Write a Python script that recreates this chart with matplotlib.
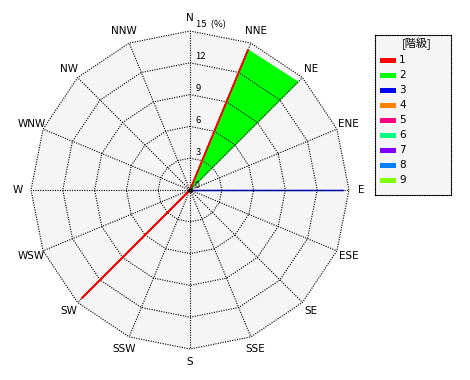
#!/usr/bin/env python3
"""Wind-rose style radar chart (16 directions, frequency %) with class legend."""

import numpy as np
import matplotlib
matplotlib.use("Agg")
import matplotlib.pyplot as plt

# ---------------------------------------------------------------------------
# Data
# ---------------------------------------------------------------------------

directions = ["N", "NNE", "NE", "ENE", "E", "ESE", "SE", "SSE",
              "S", "SSW", "SW", "WSW", "W", "WNW", "NW", "NNW"]

class_labels = ["1", "2", "3", "4", "5", "6", "7", "8", "9"]
class_colors = ["#ff0000", "#00ff00", "#0000ff", "#ff8000", "#ff0080",
                "#00ff80", "#8000ff", "#0080ff", "#80ff00"]

# frequency (%) per direction, one list per class (only 1-3 have values)
class1 = [0, 14.3, 0, 0, 0, 0, 0, 0, 0, 0, 14.4, 0, 0, 0, 0, 0]
class2 = [0, 14.3, 14.4, 0, 0, 0, 0, 0, 0, 0, 0, 0, 0, 0, 0, 0]
class3 = [0, 0, 0, 0, 14.4, 0, 0, 0, 0, 0, 0, 0, 0, 0, 0, 0]

ring_ticks = [3, 6, 9, 12, 15]
r_max = 15
unit_label = "(%)"
legend_title = "[階級]"

BG = "#f5f5f5"
CJK = ["Noto Sans CJK JP", "DejaVu Sans"]

# ---------------------------------------------------------------------------
# Figure
# ---------------------------------------------------------------------------

W, H = 470, 380
fig = plt.figure(figsize=(W / 100, H / 100), dpi=100)
fig.patch.set_facecolor("white")

# polar axes centred at (190, 190) px, radius 159 px
ax = fig.add_axes([31 / W, (H - 349) / H, 318 / W, 318 / H], projection="polar")
ax.set_theta_zero_location("N")
ax.set_theta_direction(-1)
ax.set_ylim(0, r_max)
ax.grid(False)
ax.set_xticks([])
ax.set_yticks([])
ax.spines["polar"].set_visible(False)
ax.patch.set_visible(False)

theta = np.deg2rad(np.arange(len(directions)) * 360 / len(directions))
theta_c = np.append(theta, theta[0])

# polygon background
ax.fill(theta_c, [r_max] * len(theta_c), color=BG, zorder=0)

dot = (0, (1, 1.2))
# spokes
for t in theta:
    ax.plot([t, t], [0, r_max], color="black", lw=0.8, linestyle=dot,
            zorder=3, clip_on=False)
# rings
for r in ring_ticks:
    ax.plot(theta_c, [r] * len(theta_c), color="black", lw=0.8, linestyle=dot,
            zorder=3, clip_on=False)

# class polygons: fills under the grid, class 1 outline on top
series = [class1, class2, class3]
line_z = [4, 2, 2]
for vals, color, z in reversed(list(zip(series, class_colors, line_z))):
    v = np.append(vals, vals[0])
    ax.fill(theta_c, v, color=color, lw=0, zorder=1.5)
    ax.plot(theta_c, v, color=color, lw=1.1 if z == 4 else 0.9, zorder=z,
            solid_capstyle="butt")

ax.plot([0], [0], "o", color="black", ms=2.2, zorder=5)

# direction labels
for t, name in zip(theta, directions):
    ax.text(t, 16.2, name, ha="center", va="center", fontsize=7.5,
            clip_on=False)

# ring labels along the north spoke
for r in ring_ticks:
    label = f"{r}  {unit_label}" if r == r_max else str(r)
    ax.annotate(label, xy=(0, r), xytext=(4, 1), textcoords="offset points",
                ha="left", va="bottom", fontsize=6.8, family=CJK,
                annotation_clip=False)
ax.annotate("0", xy=(0, 0), xytext=(3, 0), textcoords="offset points",
            ha="left", va="bottom", fontsize=5.5, annotation_clip=False)

# ---------------------------------------------------------------------------
# Legend box
# ---------------------------------------------------------------------------

lg = fig.add_axes([375 / W, (H - 195) / H, 76 / W, 160 / H])
lg.set_facecolor(BG)
lg.set_xlim(0, 76)
lg.set_ylim(160, 0)
lg.set_xticks([])
lg.set_yticks([])
for s in lg.spines.values():
    s.set_linestyle(dot)
    s.set_linewidth(0.8)

ypos = 25 + 15 * np.arange(len(class_labels))
lg.barh(ypos, width=16, left=5, height=5, color=class_colors)
for y, lab in zip(ypos, class_labels):
    lg.text(24, y, lab, ha="left", va="center", fontsize=7.5)
lg.text(41.5, 9, legend_title, ha="center", va="center", fontsize=8,
        family=CJK)

fig.savefig("out.png", dpi=100)
